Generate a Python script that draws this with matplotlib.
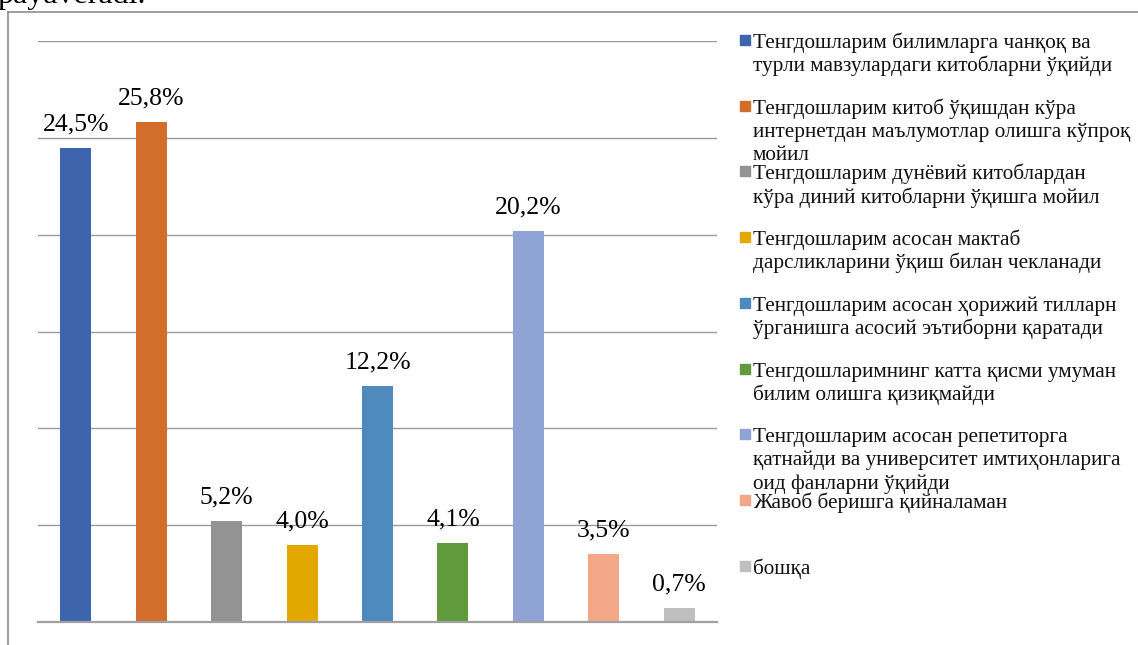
import matplotlib.pyplot as plt
from matplotlib.lines import Line2D
from matplotlib.patches import Rectangle

plt.rcParams['font.family'] = ['Liberation Serif', 'DejaVu Serif']

# chart data
labels = [
    "Тенгдошларим билимларга чанқоқ ва\nтурли мавзулардаги китобларни ўқийди",
    "Тенгдошларим китоб ўқишдан кўра\nинтернетдан маълумотлар олишга кўпроқ\nмойил",
    "Тенгдошларим дунёвий китоблардан\nкўра диний китобларни ўқишга мойил",
    "Тенгдошларим асосан мактаб\nдарсликларини ўқиш билан чекланади",
    "Тенгдошларим асосан ҳорижий тилларн\nўрганишга асосий эътиборни қаратади",
    "Тенгдошларимнинг катта қисми умуман\nбилим олишга қизиқмайди",
    "Тенгдошларим асосан репетиторга\nқатнайди ва университет имтиҳонларига\nоид фанларни ўқийди",
    "Жавоб беришга қийналаман",
    "бошқа",
]
values = [24.5, 25.8, 5.2, 4.0, 12.2, 4.1, 20.2, 3.5, 0.7]
colors = ['#3d64ad', '#d36d2b', '#939393', '#e2a800', '#4f8abf',
          '#629a3e', '#8fa3d4', '#f1a788', '#bfbfbf']

W, H = 1138, 645
fig = plt.figure(figsize=(W / 100, H / 100), dpi=100)

ax = fig.add_axes([38 / W, (H - 622) / H, (717 - 38) / W, 581 / H])
x = range(len(values))
ax.bar(x, values, width=0.41, color=colors, zorder=2)
ax.set_xlim(-0.5, 8.5)
ax.set_ylim(0, 30)
ax.set_yticks(range(0, 31, 5))
ax.yaxis.grid(True, color='#9a9a9a', linewidth=1.0, zorder=0)
ax.tick_params(left=False, bottom=False, labelleft=False, labelbottom=False)
for s in ['top', 'right', 'left']:
    ax.spines[s].set_visible(False)
ax.spines['bottom'].set_color('#a0a0a0')
ax.spines['bottom'].set_linewidth(1.6)

for i, v in enumerate(values):
    ax.annotate(f"{v:.1f}%".replace('.', ','), (i, v), xytext=(0, 9),
                textcoords='offset points', ha='center', va='bottom',
                fontsize=18.5, color='black')

# custom legend (fixed slots like the original)
for i, lab in enumerate(labels):
    yc = 40 + i * 65.7
    fig.patches.append(Rectangle((740 / W, 1 - (yc + 5) / H), 10 / W, 10 / H,
                                 transform=fig.transFigure, color=colors[i]))
    for k, line in enumerate(lab.split('\n')):
        fig.text(753 / W, 1 - (yc + 8 + k * 23.3) / H, line, fontsize=15.3,
                 ha='left', va='baseline', color='#111111')

# page frame and text above the chart
fig.add_artist(Line2D([8 / W, 1], [1 - 12 / H, 1 - 12 / H], color='#8c8c8c', lw=1.2))
fig.add_artist(Line2D([8 / W, 8 / W], [0, 1 - 12 / H], color='#8c8c8c', lw=1.2))
fig.text(-3 / W, 1 - 3 / H, "payaveradi.", fontsize=23, ha='left', va='baseline')

plt.savefig('out.png', dpi=100)
